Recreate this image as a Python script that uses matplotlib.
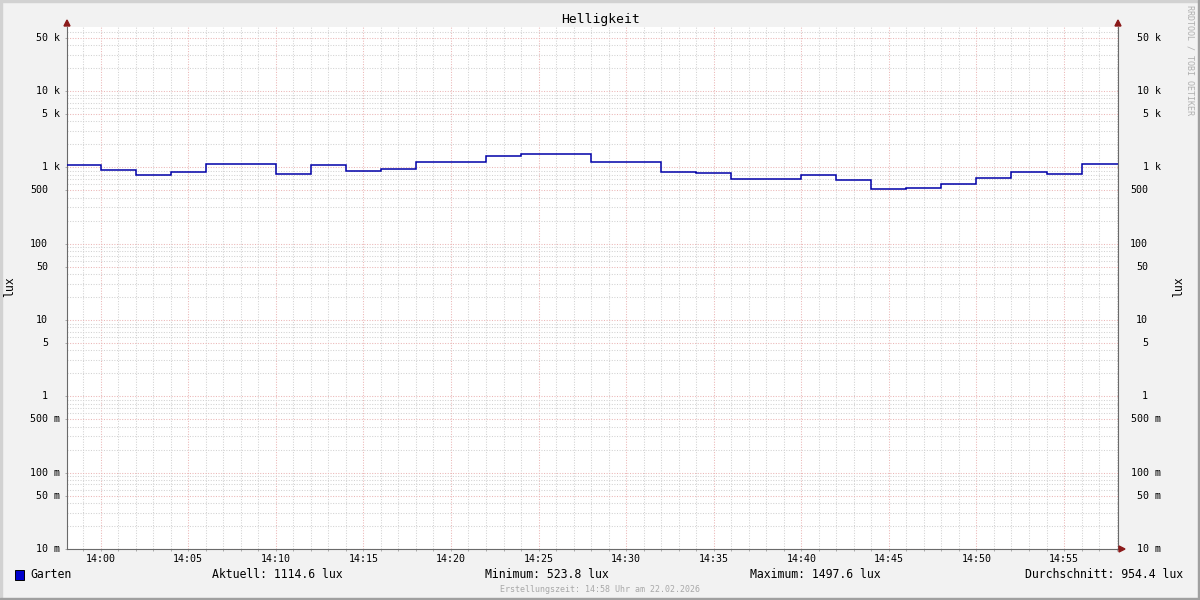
import numpy as np
import matplotlib.pyplot as plt
from matplotlib.patches import Rectangle, Polygon
from matplotlib.ticker import FixedLocator, LogLocator, MultipleLocator

# --- data (minutes after 14:00, 2 minute steps) ---
slot_start = np.arange(-2, 60, 2)
lux = [1062, 933, 793, 879, 1119, 1119, 827, 1085, 887, 962,
       1188, 1188, 1394, 1497.6, 1497.6, 1188, 1188, 879, 853, 711,
       711, 786, 682, 523.8, 542, 612, 733, 879, 827, 1114.6, 1114.6]
edges = np.append(slot_start, slot_start[-1] + 2)

x_ticks = list(range(0, 60, 5))
x_labels = ['14:00', '14:05', '14:10', '14:15', '14:20', '14:25',
            '14:30', '14:35', '14:40', '14:45', '14:50', '14:55']

y_ticks = [0.01, 0.05, 0.1, 0.5, 1, 5, 10, 50, 100, 500, 1000, 5000, 10000, 50000]
y_labels = ['10 m', '50 m', '100 m', '500 m', '1', '5', '10', '50', '100', '500',
            '1 k', '5 k', '10 k', '50 k']

legend_name = 'Garten'
stats = ['Aktuell: 1114.6 lux', 'Minimum: 523.8 lux',
         'Maximum: 1497.6 lux', 'Durchschnitt: 954.4 lux']

# --- layout in pixels ---
W, H = 1200, 600
L, R, T, B = 67, 1118, 27, 549
mono = 'DejaVu Sans Mono'
red_grid = '#ebb6b6'
gray_grid = '#d2d2d2'
axis_col = '#6a6a6a'
arrow_col = '#8b1a1a'

fig = plt.figure(figsize=(12, 6), dpi=100, facecolor='#f2f2f2')
ax = fig.add_axes([L / W, 1 - B / H, (R - L) / W, (B - T) / H])
ax.set_facecolor('white')
ax.set_yscale('log')
ax.set_xlim(-1.92, 58.08)
ax.set_ylim(0.01, 69000)

# grid
ax.xaxis.set_major_locator(FixedLocator(x_ticks))
ax.xaxis.set_minor_locator(MultipleLocator(1))
ax.yaxis.set_major_locator(FixedLocator(y_ticks))
ax.yaxis.set_minor_locator(LogLocator(base=10, subs=(2, 3, 4, 6, 7, 8, 9), numticks=30))
ax.set_axisbelow(True)
ax.grid(which='minor', color=gray_grid, ls=(0, (1, 1.5)), lw=0.75)
ax.grid(which='major', color=red_grid, ls=(0, (1, 1.5)), lw=0.75)
ax.tick_params(which='both', labelleft=False, labelbottom=False, length=1.5,
               width=0.7, color='#aaaaaa', direction='out')
ax.tick_params(axis='y', which='minor', length=0)

ax.spines['top'].set_visible(False)
for side in ['left', 'right', 'bottom']:
    ax.spines[side].set_color(axis_col)
    ax.spines[side].set_linewidth(0.8)

# data line
ax.stairs(lux, edges, baseline=None, color='#0000a8', lw=1.1, zorder=3)

# y labels both sides
for v, s in zip(y_ticks, y_labels):
    unit = ' ' in s
    ax.annotate(s, (0, v), xycoords=('axes fraction', 'data'),
                xytext=(-7 if unit else -19, 0), textcoords='offset pixels',
                ha='right', va='center', family=mono, fontsize=7.2)
    ax.annotate(s, (1, v), xycoords=('axes fraction', 'data'),
                xytext=(43 if unit else 30, 0), textcoords='offset pixels',
                ha='right', va='center', family=mono, fontsize=7.2)

# x labels
for m, s in zip(x_ticks, x_labels):
    ax.annotate(s, (m, 0), xycoords=('data', 'axes fraction'),
                xytext=(0, -9.5), textcoords='offset pixels',
                ha='center', va='center', family=mono, fontsize=7.2)

# arrows at axis ends
def px(x, y):
    return (x / W, 1 - y / H)

for xa in (L, R):
    fig.add_artist(Polygon([px(xa - 3, 26), px(xa + 3, 26), px(xa, 20)],
                           closed=True, color=arrow_col, transform=fig.transFigure))
fig.add_artist(Polygon([px(R + 1, B - 3), px(R + 1, B + 3), px(R + 7, B)],
                       closed=True, color=arrow_col, transform=fig.transFigure))

# titles and axis labels
fig.text(600 / W, 1 - 19 / H, 'Helligkeit', ha='center', va='center',
         family=mono, fontsize=9.4)
fig.text(10 / W, 1 - 287 / H, 'lux', ha='center', va='center', rotation=90,
         family=mono, fontsize=8.3)
fig.text(1179 / W, 1 - 287 / H, 'lux', ha='center', va='center', rotation=90,
         family=mono, fontsize=8.3)
fig.text(1190 / W, 1 - 5 / H, 'RRDTOOL / TOBI OETIKER', ha='center', va='top',
         rotation=-90, family=mono, fontsize=6, color='#b0b0b0')

# legend row
fig.add_artist(Rectangle(px(15, 580), 9 / W, 10 / H, facecolor='#0000cc',
                         edgecolor='black', lw=0.7, transform=fig.transFigure))
fig.text(30 / W, 1 - 575 / H, legend_name, ha='left', va='center', family=mono, fontsize=8.3)
stat_x = [212, 485, 750]
for xs, s in zip(stat_x, stats[:3]):
    fig.text(xs / W, 1 - 575 / H, s, ha='left', va='center', family=mono, fontsize=8.3)
fig.text(1183 / W, 1 - 575 / H, stats[3], ha='right', va='center', family=mono, fontsize=8.3)
fig.text(600 / W, 1 - 589 / H, 'Erstellungszeit: 14:58 Uhr am 22.02.2026',
         ha='center', va='center', family=mono, fontsize=6, color='#a8a8a8')

# outer frame (light top/left, dark bottom/right)
fig.add_artist(Rectangle((0, 1 - 2 / H), 1, 2 / H, color='#d2d2d2', transform=fig.transFigure))
fig.add_artist(Rectangle((0, 0), 2 / W, 1, color='#d2d2d2', transform=fig.transFigure))
fig.add_artist(Rectangle((0, 0), 1, 2 / H, color='#a0a0a0', transform=fig.transFigure))
fig.add_artist(Rectangle((1 - 2 / W, 0), 2 / W, 1, color='#a0a0a0', transform=fig.transFigure))

fig.savefig('out.png', dpi=100, facecolor=fig.get_facecolor())
